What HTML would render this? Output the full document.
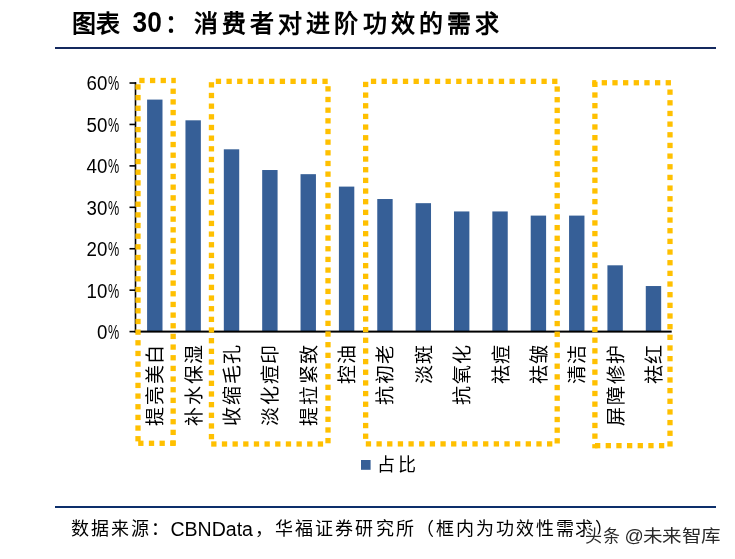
<!DOCTYPE html>
<html lang="zh-CN"><head><meta charset="utf-8"><style>
html,body{margin:0;padding:0;background:#fff;}
body{width:735px;height:559px;overflow:hidden;position:relative;font-family:"Liberation Sans",sans-serif;}
svg{position:absolute;left:0;top:0;will-change:transform;}
</style></head><body>
<svg width="735" height="559" viewBox="0 0 735 559">
<g font-family="Liberation Serif, serif" font-weight="bold" fill="#000" font-size="24">
<text x="72" y="31.8">图表</text>
<text x="132.6" y="32" font-family="Liberation Sans, sans-serif" font-size="29.5" textLength="29.2" lengthAdjust="spacingAndGlyphs">30</text>
<text x="165" y="31.8">：</text>
<text x="193.5" y="32" letter-spacing="4.2">消费者对进阶功效的需求</text>
</g>
<rect x="55" y="47" width="661" height="2" fill="#14295e"/>
<g fill="#365f97">
<rect x="147.10" y="99.59" width="15.4" height="232.01"/><rect x="185.46" y="120.31" width="15.4" height="211.29"/><rect x="223.82" y="149.31" width="15.4" height="182.29"/><rect x="262.18" y="170.02" width="15.4" height="161.58"/><rect x="300.54" y="174.17" width="15.4" height="157.43"/><rect x="338.90" y="186.60" width="15.4" height="145.00"/><rect x="377.26" y="199.02" width="15.4" height="132.58"/><rect x="415.62" y="203.17" width="15.4" height="128.43"/><rect x="453.98" y="211.45" width="15.4" height="120.15"/><rect x="492.34" y="211.45" width="15.4" height="120.15"/><rect x="530.70" y="215.60" width="15.4" height="116.00"/><rect x="569.06" y="215.60" width="15.4" height="116.00"/><rect x="607.42" y="265.31" width="15.4" height="66.29"/><rect x="645.78" y="286.03" width="15.4" height="45.57"/>
</g>
<g stroke="#000" stroke-width="1.6">
<line x1="135.5" y1="82.2" x2="135.5" y2="332.6"/>
<line x1="129.5" y1="331.60" x2="136" y2="331.60"/><line x1="129.5" y1="290.17" x2="136" y2="290.17"/><line x1="129.5" y1="248.74" x2="136" y2="248.74"/><line x1="129.5" y1="207.31" x2="136" y2="207.31"/><line x1="129.5" y1="165.88" x2="136" y2="165.88"/><line x1="129.5" y1="124.45" x2="136" y2="124.45"/><line x1="129.5" y1="83.02" x2="136" y2="83.02"/>
</g>
<rect x="134.7" y="330.6" width="537" height="2" fill="#000"/>
<g font-family="Liberation Sans, sans-serif" font-size="20.5" fill="#000">
<text x="97.00" y="338.95" textLength="10.4" lengthAdjust="spacingAndGlyphs">0</text><text x="107.9" y="338.95" textLength="11.2" lengthAdjust="spacingAndGlyphs">%</text><text x="86.60" y="297.52" textLength="20.8" lengthAdjust="spacingAndGlyphs">10</text><text x="107.9" y="297.52" textLength="11.2" lengthAdjust="spacingAndGlyphs">%</text><text x="86.60" y="256.09" textLength="20.8" lengthAdjust="spacingAndGlyphs">20</text><text x="107.9" y="256.09" textLength="11.2" lengthAdjust="spacingAndGlyphs">%</text><text x="86.60" y="214.66" textLength="20.8" lengthAdjust="spacingAndGlyphs">30</text><text x="107.9" y="214.66" textLength="11.2" lengthAdjust="spacingAndGlyphs">%</text><text x="86.60" y="173.23" textLength="20.8" lengthAdjust="spacingAndGlyphs">40</text><text x="107.9" y="173.23" textLength="11.2" lengthAdjust="spacingAndGlyphs">%</text><text x="86.60" y="131.80" textLength="20.8" lengthAdjust="spacingAndGlyphs">50</text><text x="107.9" y="131.80" textLength="11.2" lengthAdjust="spacingAndGlyphs">%</text><text x="86.60" y="90.37" textLength="20.8" lengthAdjust="spacingAndGlyphs">60</text><text x="107.9" y="90.37" textLength="11.2" lengthAdjust="spacingAndGlyphs">%</text>
</g>
<g font-family="Liberation Serif, serif" font-size="19" fill="#000" letter-spacing="1.6">
<text transform="translate(155.80,343.20) rotate(-90)" text-anchor="end" dominant-baseline="central">提亮美白</text><text transform="translate(194.16,343.20) rotate(-90)" text-anchor="end" dominant-baseline="central">补水保湿</text><text transform="translate(232.52,343.20) rotate(-90)" text-anchor="end" dominant-baseline="central">收缩毛孔</text><text transform="translate(270.88,343.20) rotate(-90)" text-anchor="end" dominant-baseline="central">淡化痘印</text><text transform="translate(309.24,343.20) rotate(-90)" text-anchor="end" dominant-baseline="central">提拉紧致</text><text transform="translate(347.60,343.20) rotate(-90)" text-anchor="end" dominant-baseline="central">控油</text><text transform="translate(385.96,343.20) rotate(-90)" text-anchor="end" dominant-baseline="central">抗初老</text><text transform="translate(424.32,343.20) rotate(-90)" text-anchor="end" dominant-baseline="central">淡斑</text><text transform="translate(462.68,343.20) rotate(-90)" text-anchor="end" dominant-baseline="central">抗氧化</text><text transform="translate(501.04,343.20) rotate(-90)" text-anchor="end" dominant-baseline="central">祛痘</text><text transform="translate(539.40,343.20) rotate(-90)" text-anchor="end" dominant-baseline="central">祛皱</text><text transform="translate(577.76,343.20) rotate(-90)" text-anchor="end" dominant-baseline="central">清洁</text><text transform="translate(616.12,343.20) rotate(-90)" text-anchor="end" dominant-baseline="central">屏障修护</text><text transform="translate(654.48,343.20) rotate(-90)" text-anchor="end" dominant-baseline="central">祛红</text>
</g>
<g fill="#ffc000">
<rect x="139.30" y="77.85" width="5.30" height="5.30"/><rect x="149.96" y="77.85" width="5.30" height="5.30"/><rect x="160.62" y="77.85" width="5.30" height="5.30"/><rect x="171.28" y="77.85" width="4.52" height="5.30"/><rect x="138.20" y="440.65" width="5.30" height="5.30"/><rect x="148.86" y="440.65" width="5.30" height="5.30"/><rect x="159.52" y="440.65" width="5.30" height="5.30"/><rect x="170.18" y="440.65" width="5.30" height="5.30"/><rect x="135.35" y="84.30" width="5.30" height="5.30"/><rect x="135.35" y="94.96" width="5.30" height="5.30"/><rect x="135.35" y="105.62" width="5.30" height="5.30"/><rect x="135.35" y="116.28" width="5.30" height="5.30"/><rect x="135.35" y="126.94" width="5.30" height="5.30"/><rect x="135.35" y="137.60" width="5.30" height="5.30"/><rect x="135.35" y="148.26" width="5.30" height="5.30"/><rect x="135.35" y="158.92" width="5.30" height="5.30"/><rect x="135.35" y="169.58" width="5.30" height="5.30"/><rect x="135.35" y="180.24" width="5.30" height="5.30"/><rect x="135.35" y="190.90" width="5.30" height="5.30"/><rect x="135.35" y="201.56" width="5.30" height="5.30"/><rect x="135.35" y="212.22" width="5.30" height="5.30"/><rect x="135.35" y="222.88" width="5.30" height="5.30"/><rect x="135.35" y="233.54" width="5.30" height="5.30"/><rect x="135.35" y="244.20" width="5.30" height="5.30"/><rect x="135.35" y="254.86" width="5.30" height="5.30"/><rect x="135.35" y="265.52" width="5.30" height="5.30"/><rect x="135.35" y="276.18" width="5.30" height="5.30"/><rect x="135.35" y="286.84" width="5.30" height="5.30"/><rect x="135.35" y="297.50" width="5.30" height="5.30"/><rect x="135.35" y="308.16" width="5.30" height="5.30"/><rect x="135.35" y="318.82" width="5.30" height="5.30"/><rect x="135.35" y="329.48" width="5.30" height="5.30"/><rect x="135.35" y="340.14" width="5.30" height="5.30"/><rect x="135.35" y="350.80" width="5.30" height="5.30"/><rect x="135.35" y="361.46" width="5.30" height="5.30"/><rect x="135.35" y="372.12" width="5.30" height="5.30"/><rect x="135.35" y="382.78" width="5.30" height="5.30"/><rect x="135.35" y="393.44" width="5.30" height="5.30"/><rect x="135.35" y="404.10" width="5.30" height="5.30"/><rect x="135.35" y="414.76" width="5.30" height="5.30"/><rect x="135.35" y="425.42" width="5.30" height="5.30"/><rect x="135.35" y="436.08" width="5.30" height="5.30"/><rect x="170.50" y="88.60" width="5.30" height="5.30"/><rect x="170.50" y="99.26" width="5.30" height="5.30"/><rect x="170.50" y="109.92" width="5.30" height="5.30"/><rect x="170.50" y="120.58" width="5.30" height="5.30"/><rect x="170.50" y="131.24" width="5.30" height="5.30"/><rect x="170.50" y="141.90" width="5.30" height="5.30"/><rect x="170.50" y="152.56" width="5.30" height="5.30"/><rect x="170.50" y="163.22" width="5.30" height="5.30"/><rect x="170.50" y="173.88" width="5.30" height="5.30"/><rect x="170.50" y="184.54" width="5.30" height="5.30"/><rect x="170.50" y="195.20" width="5.30" height="5.30"/><rect x="170.50" y="205.86" width="5.30" height="5.30"/><rect x="170.50" y="216.52" width="5.30" height="5.30"/><rect x="170.50" y="227.18" width="5.30" height="5.30"/><rect x="170.50" y="237.84" width="5.30" height="5.30"/><rect x="170.50" y="248.50" width="5.30" height="5.30"/><rect x="170.50" y="259.16" width="5.30" height="5.30"/><rect x="170.50" y="269.82" width="5.30" height="5.30"/><rect x="170.50" y="280.48" width="5.30" height="5.30"/><rect x="170.50" y="291.14" width="5.30" height="5.30"/><rect x="170.50" y="301.80" width="5.30" height="5.30"/><rect x="170.50" y="312.46" width="5.30" height="5.30"/><rect x="170.50" y="323.12" width="5.30" height="5.30"/><rect x="170.50" y="333.78" width="5.30" height="5.30"/><rect x="170.50" y="344.44" width="5.30" height="5.30"/><rect x="170.50" y="355.10" width="5.30" height="5.30"/><rect x="170.50" y="365.76" width="5.30" height="5.30"/><rect x="170.50" y="376.42" width="5.30" height="5.30"/><rect x="170.50" y="387.08" width="5.30" height="5.30"/><rect x="170.50" y="397.74" width="5.30" height="5.30"/><rect x="170.50" y="408.40" width="5.30" height="5.30"/><rect x="170.50" y="419.06" width="5.30" height="5.30"/><rect x="170.50" y="429.72" width="5.30" height="5.30"/><rect x="170.50" y="440.38" width="5.30" height="5.30"/><rect x="215.80" y="78.70" width="5.30" height="5.30"/><rect x="226.46" y="78.70" width="5.30" height="5.30"/><rect x="237.12" y="78.70" width="5.30" height="5.30"/><rect x="247.78" y="78.70" width="5.30" height="5.30"/><rect x="258.44" y="78.70" width="5.30" height="5.30"/><rect x="269.10" y="78.70" width="5.30" height="5.30"/><rect x="279.76" y="78.70" width="5.30" height="5.30"/><rect x="290.42" y="78.70" width="5.30" height="5.30"/><rect x="301.08" y="78.70" width="5.30" height="5.30"/><rect x="311.74" y="78.70" width="5.30" height="5.30"/><rect x="322.40" y="78.70" width="5.30" height="5.30"/><rect x="211.20" y="441.35" width="5.30" height="5.30"/><rect x="221.86" y="441.35" width="5.30" height="5.30"/><rect x="232.52" y="441.35" width="5.30" height="5.30"/><rect x="243.18" y="441.35" width="5.30" height="5.30"/><rect x="253.84" y="441.35" width="5.30" height="5.30"/><rect x="264.50" y="441.35" width="5.30" height="5.30"/><rect x="275.16" y="441.35" width="5.30" height="5.30"/><rect x="285.82" y="441.35" width="5.30" height="5.30"/><rect x="296.48" y="441.35" width="5.30" height="5.30"/><rect x="307.14" y="441.35" width="5.30" height="5.30"/><rect x="317.80" y="441.35" width="5.30" height="5.30"/><rect x="208.80" y="82.20" width="5.30" height="5.30"/><rect x="208.80" y="92.86" width="5.30" height="5.30"/><rect x="208.80" y="103.52" width="5.30" height="5.30"/><rect x="208.80" y="114.18" width="5.30" height="5.30"/><rect x="208.80" y="124.84" width="5.30" height="5.30"/><rect x="208.80" y="135.50" width="5.30" height="5.30"/><rect x="208.80" y="146.16" width="5.30" height="5.30"/><rect x="208.80" y="156.82" width="5.30" height="5.30"/><rect x="208.80" y="167.48" width="5.30" height="5.30"/><rect x="208.80" y="178.14" width="5.30" height="5.30"/><rect x="208.80" y="188.80" width="5.30" height="5.30"/><rect x="208.80" y="199.46" width="5.30" height="5.30"/><rect x="208.80" y="210.12" width="5.30" height="5.30"/><rect x="208.80" y="220.78" width="5.30" height="5.30"/><rect x="208.80" y="231.44" width="5.30" height="5.30"/><rect x="208.80" y="242.10" width="5.30" height="5.30"/><rect x="208.80" y="252.76" width="5.30" height="5.30"/><rect x="208.80" y="263.42" width="5.30" height="5.30"/><rect x="208.80" y="274.08" width="5.30" height="5.30"/><rect x="208.80" y="284.74" width="5.30" height="5.30"/><rect x="208.80" y="295.40" width="5.30" height="5.30"/><rect x="208.80" y="306.06" width="5.30" height="5.30"/><rect x="208.80" y="316.72" width="5.30" height="5.30"/><rect x="208.80" y="327.38" width="5.30" height="5.30"/><rect x="208.80" y="338.04" width="5.30" height="5.30"/><rect x="208.80" y="348.70" width="5.30" height="5.30"/><rect x="208.80" y="359.36" width="5.30" height="5.30"/><rect x="208.80" y="370.02" width="5.30" height="5.30"/><rect x="208.80" y="380.68" width="5.30" height="5.30"/><rect x="208.80" y="391.34" width="5.30" height="5.30"/><rect x="208.80" y="402.00" width="5.30" height="5.30"/><rect x="208.80" y="412.66" width="5.30" height="5.30"/><rect x="208.80" y="423.32" width="5.30" height="5.30"/><rect x="208.80" y="433.98" width="5.30" height="5.30"/><rect x="325.35" y="86.20" width="5.30" height="5.30"/><rect x="325.35" y="96.86" width="5.30" height="5.30"/><rect x="325.35" y="107.52" width="5.30" height="5.30"/><rect x="325.35" y="118.18" width="5.30" height="5.30"/><rect x="325.35" y="128.84" width="5.30" height="5.30"/><rect x="325.35" y="139.50" width="5.30" height="5.30"/><rect x="325.35" y="150.16" width="5.30" height="5.30"/><rect x="325.35" y="160.82" width="5.30" height="5.30"/><rect x="325.35" y="171.48" width="5.30" height="5.30"/><rect x="325.35" y="182.14" width="5.30" height="5.30"/><rect x="325.35" y="192.80" width="5.30" height="5.30"/><rect x="325.35" y="203.46" width="5.30" height="5.30"/><rect x="325.35" y="214.12" width="5.30" height="5.30"/><rect x="325.35" y="224.78" width="5.30" height="5.30"/><rect x="325.35" y="235.44" width="5.30" height="5.30"/><rect x="325.35" y="246.10" width="5.30" height="5.30"/><rect x="325.35" y="256.76" width="5.30" height="5.30"/><rect x="325.35" y="267.42" width="5.30" height="5.30"/><rect x="325.35" y="278.08" width="5.30" height="5.30"/><rect x="325.35" y="288.74" width="5.30" height="5.30"/><rect x="325.35" y="299.40" width="5.30" height="5.30"/><rect x="325.35" y="310.06" width="5.30" height="5.30"/><rect x="325.35" y="320.72" width="5.30" height="5.30"/><rect x="325.35" y="331.38" width="5.30" height="5.30"/><rect x="325.35" y="342.04" width="5.30" height="5.30"/><rect x="325.35" y="352.70" width="5.30" height="5.30"/><rect x="325.35" y="363.36" width="5.30" height="5.30"/><rect x="325.35" y="374.02" width="5.30" height="5.30"/><rect x="325.35" y="384.68" width="5.30" height="5.30"/><rect x="325.35" y="395.34" width="5.30" height="5.30"/><rect x="325.35" y="406.00" width="5.30" height="5.30"/><rect x="325.35" y="416.66" width="5.30" height="5.30"/><rect x="325.35" y="427.32" width="5.30" height="5.30"/><rect x="325.35" y="437.98" width="5.30" height="5.30"/><rect x="370.90" y="78.70" width="5.30" height="5.30"/><rect x="381.56" y="78.70" width="5.30" height="5.30"/><rect x="392.22" y="78.70" width="5.30" height="5.30"/><rect x="402.88" y="78.70" width="5.30" height="5.30"/><rect x="413.54" y="78.70" width="5.30" height="5.30"/><rect x="424.20" y="78.70" width="5.30" height="5.30"/><rect x="434.86" y="78.70" width="5.30" height="5.30"/><rect x="445.52" y="78.70" width="5.30" height="5.30"/><rect x="456.18" y="78.70" width="5.30" height="5.30"/><rect x="466.84" y="78.70" width="5.30" height="5.30"/><rect x="477.50" y="78.70" width="5.30" height="5.30"/><rect x="488.16" y="78.70" width="5.30" height="5.30"/><rect x="498.82" y="78.70" width="5.30" height="5.30"/><rect x="509.48" y="78.70" width="5.30" height="5.30"/><rect x="520.14" y="78.70" width="5.30" height="5.30"/><rect x="530.80" y="78.70" width="5.30" height="5.30"/><rect x="541.46" y="78.70" width="5.30" height="5.30"/><rect x="552.12" y="78.70" width="5.30" height="5.30"/><rect x="365.80" y="441.25" width="5.30" height="5.30"/><rect x="376.46" y="441.25" width="5.30" height="5.30"/><rect x="387.12" y="441.25" width="5.30" height="5.30"/><rect x="397.78" y="441.25" width="5.30" height="5.30"/><rect x="408.44" y="441.25" width="5.30" height="5.30"/><rect x="419.10" y="441.25" width="5.30" height="5.30"/><rect x="429.76" y="441.25" width="5.30" height="5.30"/><rect x="440.42" y="441.25" width="5.30" height="5.30"/><rect x="451.08" y="441.25" width="5.30" height="5.30"/><rect x="461.74" y="441.25" width="5.30" height="5.30"/><rect x="472.40" y="441.25" width="5.30" height="5.30"/><rect x="483.06" y="441.25" width="5.30" height="5.30"/><rect x="493.72" y="441.25" width="5.30" height="5.30"/><rect x="504.38" y="441.25" width="5.30" height="5.30"/><rect x="515.04" y="441.25" width="5.30" height="5.30"/><rect x="525.70" y="441.25" width="5.30" height="5.30"/><rect x="536.36" y="441.25" width="5.30" height="5.30"/><rect x="547.02" y="441.25" width="5.30" height="5.30"/><rect x="363.00" y="81.80" width="5.30" height="5.30"/><rect x="363.00" y="92.46" width="5.30" height="5.30"/><rect x="363.00" y="103.12" width="5.30" height="5.30"/><rect x="363.00" y="113.78" width="5.30" height="5.30"/><rect x="363.00" y="124.44" width="5.30" height="5.30"/><rect x="363.00" y="135.10" width="5.30" height="5.30"/><rect x="363.00" y="145.76" width="5.30" height="5.30"/><rect x="363.00" y="156.42" width="5.30" height="5.30"/><rect x="363.00" y="167.08" width="5.30" height="5.30"/><rect x="363.00" y="177.74" width="5.30" height="5.30"/><rect x="363.00" y="188.40" width="5.30" height="5.30"/><rect x="363.00" y="199.06" width="5.30" height="5.30"/><rect x="363.00" y="209.72" width="5.30" height="5.30"/><rect x="363.00" y="220.38" width="5.30" height="5.30"/><rect x="363.00" y="231.04" width="5.30" height="5.30"/><rect x="363.00" y="241.70" width="5.30" height="5.30"/><rect x="363.00" y="252.36" width="5.30" height="5.30"/><rect x="363.00" y="263.02" width="5.30" height="5.30"/><rect x="363.00" y="273.68" width="5.30" height="5.30"/><rect x="363.00" y="284.34" width="5.30" height="5.30"/><rect x="363.00" y="295.00" width="5.30" height="5.30"/><rect x="363.00" y="305.66" width="5.30" height="5.30"/><rect x="363.00" y="316.32" width="5.30" height="5.30"/><rect x="363.00" y="326.98" width="5.30" height="5.30"/><rect x="363.00" y="337.64" width="5.30" height="5.30"/><rect x="363.00" y="348.30" width="5.30" height="5.30"/><rect x="363.00" y="358.96" width="5.30" height="5.30"/><rect x="363.00" y="369.62" width="5.30" height="5.30"/><rect x="363.00" y="380.28" width="5.30" height="5.30"/><rect x="363.00" y="390.94" width="5.30" height="5.30"/><rect x="363.00" y="401.60" width="5.30" height="5.30"/><rect x="363.00" y="412.26" width="5.30" height="5.30"/><rect x="363.00" y="422.92" width="5.30" height="5.30"/><rect x="363.00" y="433.58" width="5.30" height="5.30"/><rect x="554.55" y="86.40" width="5.30" height="5.30"/><rect x="554.55" y="97.06" width="5.30" height="5.30"/><rect x="554.55" y="107.72" width="5.30" height="5.30"/><rect x="554.55" y="118.38" width="5.30" height="5.30"/><rect x="554.55" y="129.04" width="5.30" height="5.30"/><rect x="554.55" y="139.70" width="5.30" height="5.30"/><rect x="554.55" y="150.36" width="5.30" height="5.30"/><rect x="554.55" y="161.02" width="5.30" height="5.30"/><rect x="554.55" y="171.68" width="5.30" height="5.30"/><rect x="554.55" y="182.34" width="5.30" height="5.30"/><rect x="554.55" y="193.00" width="5.30" height="5.30"/><rect x="554.55" y="203.66" width="5.30" height="5.30"/><rect x="554.55" y="214.32" width="5.30" height="5.30"/><rect x="554.55" y="224.98" width="5.30" height="5.30"/><rect x="554.55" y="235.64" width="5.30" height="5.30"/><rect x="554.55" y="246.30" width="5.30" height="5.30"/><rect x="554.55" y="256.96" width="5.30" height="5.30"/><rect x="554.55" y="267.62" width="5.30" height="5.30"/><rect x="554.55" y="278.28" width="5.30" height="5.30"/><rect x="554.55" y="288.94" width="5.30" height="5.30"/><rect x="554.55" y="299.60" width="5.30" height="5.30"/><rect x="554.55" y="310.26" width="5.30" height="5.30"/><rect x="554.55" y="320.92" width="5.30" height="5.30"/><rect x="554.55" y="331.58" width="5.30" height="5.30"/><rect x="554.55" y="342.24" width="5.30" height="5.30"/><rect x="554.55" y="352.90" width="5.30" height="5.30"/><rect x="554.55" y="363.56" width="5.30" height="5.30"/><rect x="554.55" y="374.22" width="5.30" height="5.30"/><rect x="554.55" y="384.88" width="5.30" height="5.30"/><rect x="554.55" y="395.54" width="5.30" height="5.30"/><rect x="554.55" y="406.20" width="5.30" height="5.30"/><rect x="554.55" y="416.86" width="5.30" height="5.30"/><rect x="554.55" y="427.52" width="5.30" height="5.30"/><rect x="554.55" y="438.18" width="5.30" height="5.30"/><rect x="592.25" y="80.10" width="4.08" height="5.30"/><rect x="601.69" y="80.10" width="5.30" height="5.30"/><rect x="612.35" y="80.10" width="5.30" height="5.30"/><rect x="623.01" y="80.10" width="5.30" height="5.30"/><rect x="633.67" y="80.10" width="5.30" height="5.30"/><rect x="644.33" y="80.10" width="5.30" height="5.30"/><rect x="654.99" y="80.10" width="5.30" height="5.30"/><rect x="665.65" y="80.10" width="5.30" height="5.30"/><rect x="595.00" y="443.00" width="5.30" height="5.30"/><rect x="605.66" y="443.00" width="5.30" height="5.30"/><rect x="616.32" y="443.00" width="5.30" height="5.30"/><rect x="626.98" y="443.00" width="5.30" height="5.30"/><rect x="637.64" y="443.00" width="5.30" height="5.30"/><rect x="648.30" y="443.00" width="5.30" height="5.30"/><rect x="658.96" y="443.00" width="5.30" height="5.30"/><rect x="592.25" y="81.70" width="5.30" height="5.30"/><rect x="592.25" y="92.36" width="5.30" height="5.30"/><rect x="592.25" y="103.02" width="5.30" height="5.30"/><rect x="592.25" y="113.68" width="5.30" height="5.30"/><rect x="592.25" y="124.34" width="5.30" height="5.30"/><rect x="592.25" y="135.00" width="5.30" height="5.30"/><rect x="592.25" y="145.66" width="5.30" height="5.30"/><rect x="592.25" y="156.32" width="5.30" height="5.30"/><rect x="592.25" y="166.98" width="5.30" height="5.30"/><rect x="592.25" y="177.64" width="5.30" height="5.30"/><rect x="592.25" y="188.30" width="5.30" height="5.30"/><rect x="592.25" y="198.96" width="5.30" height="5.30"/><rect x="592.25" y="209.62" width="5.30" height="5.30"/><rect x="592.25" y="220.28" width="5.30" height="5.30"/><rect x="592.25" y="230.94" width="5.30" height="5.30"/><rect x="592.25" y="241.60" width="5.30" height="5.30"/><rect x="592.25" y="252.26" width="5.30" height="5.30"/><rect x="592.25" y="262.92" width="5.30" height="5.30"/><rect x="592.25" y="273.58" width="5.30" height="5.30"/><rect x="592.25" y="284.24" width="5.30" height="5.30"/><rect x="592.25" y="294.90" width="5.30" height="5.30"/><rect x="592.25" y="305.56" width="5.30" height="5.30"/><rect x="592.25" y="316.22" width="5.30" height="5.30"/><rect x="592.25" y="326.88" width="5.30" height="5.30"/><rect x="592.25" y="337.54" width="5.30" height="5.30"/><rect x="592.25" y="348.20" width="5.30" height="5.30"/><rect x="592.25" y="358.86" width="5.30" height="5.30"/><rect x="592.25" y="369.52" width="5.30" height="5.30"/><rect x="592.25" y="380.18" width="5.30" height="5.30"/><rect x="592.25" y="390.84" width="5.30" height="5.30"/><rect x="592.25" y="401.50" width="5.30" height="5.30"/><rect x="592.25" y="412.16" width="5.30" height="5.30"/><rect x="592.25" y="422.82" width="5.30" height="5.30"/><rect x="592.25" y="433.48" width="5.30" height="5.30"/><rect x="592.25" y="444.14" width="5.30" height="4.16"/><rect x="667.35" y="89.50" width="5.30" height="5.30"/><rect x="667.35" y="100.16" width="5.30" height="5.30"/><rect x="667.35" y="110.82" width="5.30" height="5.30"/><rect x="667.35" y="121.48" width="5.30" height="5.30"/><rect x="667.35" y="132.14" width="5.30" height="5.30"/><rect x="667.35" y="142.80" width="5.30" height="5.30"/><rect x="667.35" y="153.46" width="5.30" height="5.30"/><rect x="667.35" y="164.12" width="5.30" height="5.30"/><rect x="667.35" y="174.78" width="5.30" height="5.30"/><rect x="667.35" y="185.44" width="5.30" height="5.30"/><rect x="667.35" y="196.10" width="5.30" height="5.30"/><rect x="667.35" y="206.76" width="5.30" height="5.30"/><rect x="667.35" y="217.42" width="5.30" height="5.30"/><rect x="667.35" y="228.08" width="5.30" height="5.30"/><rect x="667.35" y="238.74" width="5.30" height="5.30"/><rect x="667.35" y="249.40" width="5.30" height="5.30"/><rect x="667.35" y="260.06" width="5.30" height="5.30"/><rect x="667.35" y="270.72" width="5.30" height="5.30"/><rect x="667.35" y="281.38" width="5.30" height="5.30"/><rect x="667.35" y="292.04" width="5.30" height="5.30"/><rect x="667.35" y="302.70" width="5.30" height="5.30"/><rect x="667.35" y="313.36" width="5.30" height="5.30"/><rect x="667.35" y="324.02" width="5.30" height="5.30"/><rect x="667.35" y="334.68" width="5.30" height="5.30"/><rect x="667.35" y="345.34" width="5.30" height="5.30"/><rect x="667.35" y="356.00" width="5.30" height="5.30"/><rect x="667.35" y="366.66" width="5.30" height="5.30"/><rect x="667.35" y="377.32" width="5.30" height="5.30"/><rect x="667.35" y="387.98" width="5.30" height="5.30"/><rect x="667.35" y="398.64" width="5.30" height="5.30"/><rect x="667.35" y="409.30" width="5.30" height="5.30"/><rect x="667.35" y="419.96" width="5.30" height="5.30"/><rect x="667.35" y="430.62" width="5.30" height="5.30"/><rect x="667.35" y="441.28" width="5.30" height="5.30"/>
</g>
<rect x="361" y="460" width="9.6" height="9.8" fill="#365f97"/>
<text x="376.6" y="471.2" font-family="Liberation Serif, serif" font-size="18" letter-spacing="3.4">占比</text>
<rect x="55" y="506" width="661" height="2" fill="#0d2f6b"/>
<g font-size="19" fill="#000">
<text x="70.6" y="535.3" font-family="Liberation Serif, serif" font-size="18" letter-spacing="2.1">数据来源：</text>
<text x="170.4" y="535.5" font-family="Liberation Sans, sans-serif" font-size="19.6" textLength="82.6" lengthAdjust="spacingAndGlyphs">CBNData</text>
<text x="255" y="535.3" font-family="Liberation Serif, serif" font-size="18" letter-spacing="2.1">，华福证券研究所（框内为功效性需</text>
<text x="575" y="535.3" font-family="Liberation Serif, serif" font-size="18" letter-spacing="2.1">求）</text>
</g>
<g font-family="Liberation Sans, sans-serif" font-size="17" fill="#2a2a2a" stroke="#fff" stroke-width="2.5" paint-order="stroke">
<text x="584.5" y="542" letter-spacing="1.5">头条</text>
<text x="624.6" y="542" font-size="19">@</text>
<text transform="translate(643,542) scale(1.15,1)" letter-spacing="0.1">未来智库</text>
</g>
</svg>
</body></html>
